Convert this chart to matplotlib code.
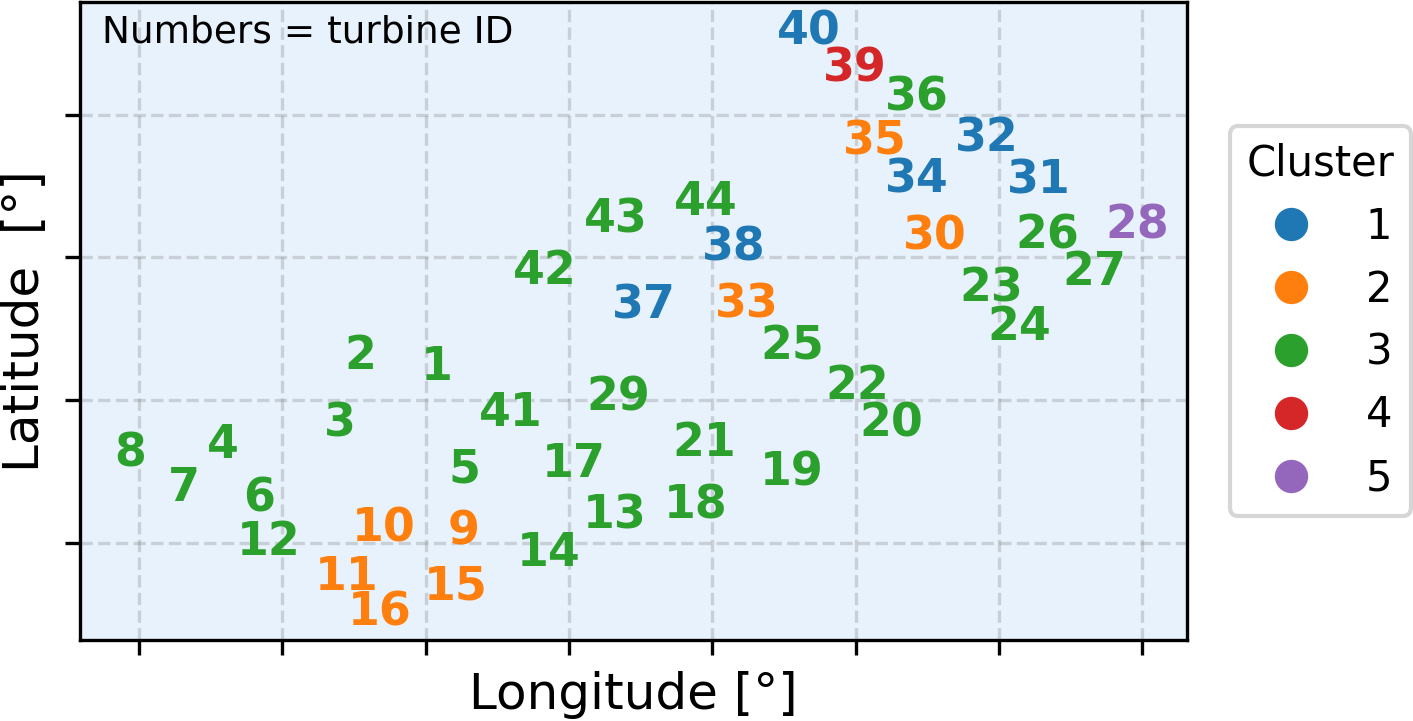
import matplotlib.pyplot as plt
from matplotlib.lines import Line2D

# turbine positions (grid units, tick labels are hidden on the original)
turbine_id = list(range(1, 45))
lon = [2.080, 1.542, 1.403, 0.586, 2.268, 0.837, 0.314, -0.063, 2.268, 1.710,
       1.452, 0.907, 3.322, 2.861, 2.212, 1.682, 3.036, 3.887, 4.557, 5.248,
       3.943, 5.010, 5.946, 6.141, 4.557, 6.336, 6.664, 6.964, 3.343, 5.555,
       6.281, 5.918, 4.243, 5.429, 5.136, 5.429, 3.524, 4.152, 4.997, 4.675,
       2.596, 2.833, 3.329, 3.957]
lat = [1.232, 1.303, 0.833, 0.686, 0.511, 0.308, 0.385, 0.623, 0.077, 0.098,
       -0.238, 0.007, 0.189, -0.070, -0.308, -0.490, 0.553, 0.259, 0.490, 0.833,
       0.700, 1.099, 1.779, 1.506, 1.373, 2.150, 1.898, 2.220, 1.015, 2.143,
       2.535, 2.829, 1.667, 2.542, 2.808, 3.116, 1.660, 2.066, 3.319, 3.578,
       0.910, 1.905, 2.262, 2.388]
cluster = [3, 3, 3, 3, 3, 3, 3, 3, 2, 2,
           2, 3, 3, 3, 2, 2, 3, 3, 3, 3,
           3, 3, 3, 3, 3, 3, 3, 5, 3, 2,
           1, 1, 2, 1, 2, 3, 1, 1, 4, 1,
           3, 3, 3, 3]
cluster_names = [1, 2, 3, 4, 5]
colors = ['#1f77b4', '#ff7f0e', '#2ca02c', '#d62728', '#9467bd']

fig = plt.figure(figsize=(1414/300, 721/300), dpi=300)
ax = fig.add_axes([80/1414, 1 - 640/721, 1107/1414, 638/721])
ax.set_facecolor('#e8f2fd')

for i in range(len(turbine_id)):
    ax.text(lon[i], lat[i], str(turbine_id[i]), color=colors[cluster[i] - 1],
            fontsize=11, fontweight='bold', ha='center', va='center')

ax.set_xlim(-0.412, 7.313)
ax.set_ylim(-0.679, 3.789)
ax.set_xticks(range(0, 8))
ax.set_yticks(range(0, 4))
ax.tick_params(labelbottom=False, labelleft=False)
ax.grid(True, linestyle='--', color='gray', alpha=0.3, linewidth=0.8)
ax.set_axisbelow(True)

ax.set_xlabel('Longitude [°]', fontsize=12)
ax.set_ylabel('Latitude  [°]', fontsize=12)

ax.text(0.02, 0.98, 'Numbers = turbine ID', transform=ax.transAxes,
        fontsize=9, ha='left', va='top')

handles = [Line2D([], [], marker='o', linestyle='', color=c, markersize=7)
           for c in colors]
ax.legend(handles, [str(c) for c in cluster_names], title='Cluster',
          loc='center left', bbox_to_anchor=(1.02, 0.5), fontsize=10,
          title_fontsize=10)

fig.savefig('out.png', dpi=300)
